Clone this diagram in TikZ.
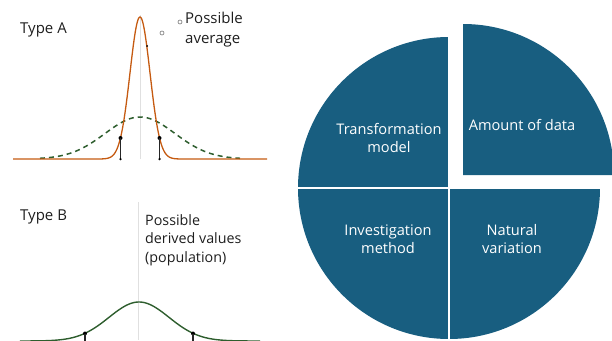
\documentclass[tikz,border=0pt]{standalone}
\usepackage{fontspec}
\setmainfont{Open Sans}
\definecolor{pieblue}{RGB}{24,94,128}
\definecolor{curveorange}{RGB}{197,90,17}
\definecolor{curvegreen}{RGB}{46,94,46}
\definecolor{labelgray}{RGB}{30,30,30}
\begin{document}
\begin{tikzpicture}[x=1pt,y=-1pt,
  lbl/.style={inner sep=0pt,text=labelgray,font=\fontsize{15}{20}\selectfont,align=left},
  lblsmall/.style={inner sep=0pt,text=labelgray,font=\fontsize{14.3}{18.5}\selectfont,align=left},
  pielbl/.style={inner sep=0pt,text=white,font=\fontsize{14.6}{18}\selectfont,align=center},
  sector/.style={fill=pieblue},
  axisline/.style={draw=black!12,line width=0.5pt},
  bar/.style={draw=black!85,line width=1.1pt},
  dotmark/.style={fill=black,inner sep=0pt,minimum size=4pt,circle},
  ring/.style={draw=black!55,line width=0.6pt,inner sep=0pt,minimum size=4pt,circle}]
\useasboundingbox (0,0) rectangle (612,340);
\clip (0,0) rectangle (612,340);

% ---------- Type A ----------
\draw[axisline] (140,15) -- (140,159);
\draw[curvegreen,line width=1.5pt,dash pattern=on 5pt off 4pt]
  plot[domain=40:240,samples=120] (\x,{159-42*exp(-((\x-140)^2)/2450)});
\draw[curveorange,line width=1.3pt]
  (13,159) -- (90,159)
  plot[domain=90:190,samples=160] (\x,{159-142*exp(-((\x-140)^2)/200)})
  -- (267,159);
\coordinate (a1) at (120.5,159);
\coordinate (a2) at (159.5,159);
\node[dotmark] (a1t) at (120.5,138) {};
\node[dotmark] (a2t) at (159.5,138) {};
\draw[bar] (a1) -- (a1t.center);
\draw[bar] (a2) -- (a2t.center);
\node[dotmark,minimum size=2.5pt] (a1b) at (a1) {};
\node[dotmark,minimum size=2.5pt] (a2b) at (a2) {};
\node[dotmark,minimum size=2pt] (peakdot) at (147,46) {};
\node[ring] (avg1) at (162,33) {};
\node[ring] (avg2) at (180,22) {};
\node[lbl,anchor=west] (typeA) at (20,30) {Type A};
\node[lbl,anchor=north west] (avgtxt) at (185,12) {Possible\\average};

% ---------- Type B ----------
\draw[axisline] (138,202) -- (138,340);
\draw[curvegreen,line width=1.4pt]
  plot[domain=20:260,samples=160] (\x,{341-39*exp(-((\x-139)^2)/1800)});
\node[dotmark] (b1t) at (85,333.5) {};
\node[dotmark] (b2t) at (193,333.5) {};
\draw[bar] (b1t.center) -- (85,341);
\draw[bar] (b2t.center) -- (193,341);
\node[lbl,anchor=west] (typeB) at (20,217) {Type B};
\node[lblsmall,anchor=north west] (poptxt) at (145,214) {Possible\\derived values\\(population)};

% ---------- Pie ----------
\coordinate (pc) at (449,188);
\coordinate (ec) at (463,175);
\fill[sector] (pc) -- ++(180:151) arc[start angle=180,end angle=270,radius=151] -- cycle;
\fill[sector] (pc) -- ++(90:151) arc[start angle=90,end angle=180,radius=151] -- cycle;
\fill[sector] (pc) -- ++(0:151) arc[start angle=0,end angle=90,radius=151] -- cycle;
\fill[sector] (ec) -- ++(270:151) arc[start angle=270,end angle=360,radius=151] -- cycle;
\draw[white,line width=1.8pt] (449,30) -- (449,345);
\draw[white,line width=1.8pt] (290,188) -- (449,188) -- (610,188);

\node[pielbl] (tm) at (389,138) {Transformation\\model};
\node[pielbl] (ad) at (522,125) {Amount of data};
\node[pielbl] (im) at (388,239) {Investigation\\method};
\node[pielbl] (nv) at (512,239) {Natural\\variation};
\end{tikzpicture}
\end{document}
